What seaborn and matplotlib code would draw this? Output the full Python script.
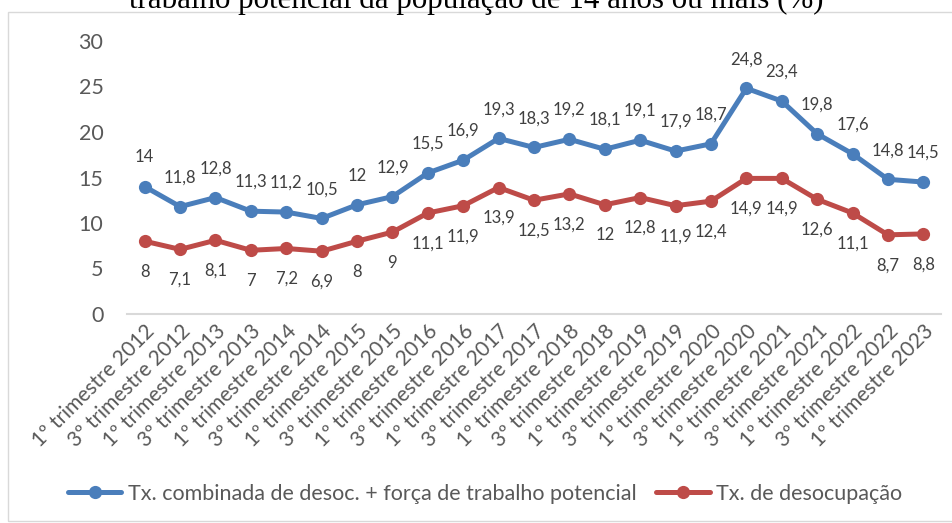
import pandas as pd
import matplotlib.pyplot as plt
import matplotlib.patches as mpatches
import seaborn as sns

# quarters shown on the x axis
periods = []
for yr in range(2012, 2023):
    periods += [f'1º trimestre {yr}', f'3º trimestre {yr}']
periods.append('1º trimestre 2023')

combinada = [14, 11.8, 12.8, 11.3, 11.2, 10.5, 12, 12.9, 15.5, 16.9, 19.3, 18.3,
             19.2, 18.1, 19.1, 17.9, 18.7, 24.8, 23.4, 19.8, 17.6, 14.8, 14.5]
desocupacao = [8, 7.1, 8.1, 7, 7.2, 6.9, 8, 9, 11.1, 11.9, 13.9, 12.5,
               13.2, 12, 12.8, 11.9, 12.4, 14.9, 14.9, 12.6, 11.1, 8.7, 8.8]

serie_a = 'Tx. combinada de desoc. + força de trabalho potencial'
serie_b = 'Tx. de desocupação'

df = pd.DataFrame({
    'periodo': periods * 2,
    'valor': combinada + desocupacao,
    'serie': [serie_a] * len(periods) + [serie_b] * len(periods),
})

sns.set_theme(style='white')
plt.rcParams['font.family'] = ['Lato', 'DejaVu Sans']
grey = '#595959'
colors = {serie_a: '#4A7EBB', serie_b: '#BE4B48'}

fig = plt.figure(figsize=(9.53, 5.23), dpi=100)
ax = fig.add_axes([127 / 953, 1 - 314 / 523, (941 - 127) / 953, (314 - 41) / 523])

sns.lineplot(data=df, x='periodo', y='valor', hue='serie', palette=colors,
             marker='o', markersize=9.5, linewidth=3.6, markeredgewidth=0,
             sort=False, ax=ax)

# data labels: blue above, red below
def fmt(v):
    return f'{v:g}'.replace('.', ',')

for i, v in enumerate(combinada):
    ax.annotate(fmt(v), (periods[i], v), xytext=(0, 21), textcoords='offset points',
                ha='center', va='center', fontsize=12, color='#404040')
for i, v in enumerate(desocupacao):
    ax.annotate(fmt(v), (periods[i], v), xytext=(0, -22), textcoords='offset points',
                ha='center', va='center', fontsize=12, color='#404040')

ax.set_ylim(0, 30)
ax.set_xlim(-0.5, len(periods) - 0.5)
ax.set_yticks([0, 5, 10, 15, 20, 25, 30])
ax.set_xlabel('')
ax.set_ylabel('')
for s in ['top', 'right', 'left']:
    ax.spines[s].set_visible(False)
ax.spines['bottom'].set_color('#D9D9D9')
ax.spines['bottom'].set_linewidth(1.5)
ax.tick_params(axis='y', labelsize=15.5, labelcolor=grey, length=0, pad=17)
ax.tick_params(axis='x', labelsize=15, labelcolor=grey, length=0, pad=5)
plt.setp(ax.get_xticklabels(), rotation=45, ha='right', rotation_mode='anchor')

ax.get_legend().remove()
handles, labels = ax.get_legend_handles_labels()
fig.legend(handles, labels, loc='center', bbox_to_anchor=(485 / 953, 1 - 494 / 523),
           ncol=2, frameon=False, fontsize=15.5, handlelength=2.5, handletextpad=0.3,
           columnspacing=0.9, labelcolor=grey)

# title (mostly cut off at the top in the original)
fig.text(0.5, 1 - 8 / 523, 'trabalho potencial da população de 14 anos ou mais (%)',
         ha='center', va='baseline', fontsize=22.3, family='Liberation Serif', color='black')

# chart border
fig.patches.append(mpatches.Rectangle((8 / 953, 1 - 521 / 523), 1.0, (521 - 12) / 523,
                                      transform=fig.transFigure, fill=False,
                                      edgecolor='#D9D9D9', linewidth=1))

fig.savefig('out.png', dpi=100)
